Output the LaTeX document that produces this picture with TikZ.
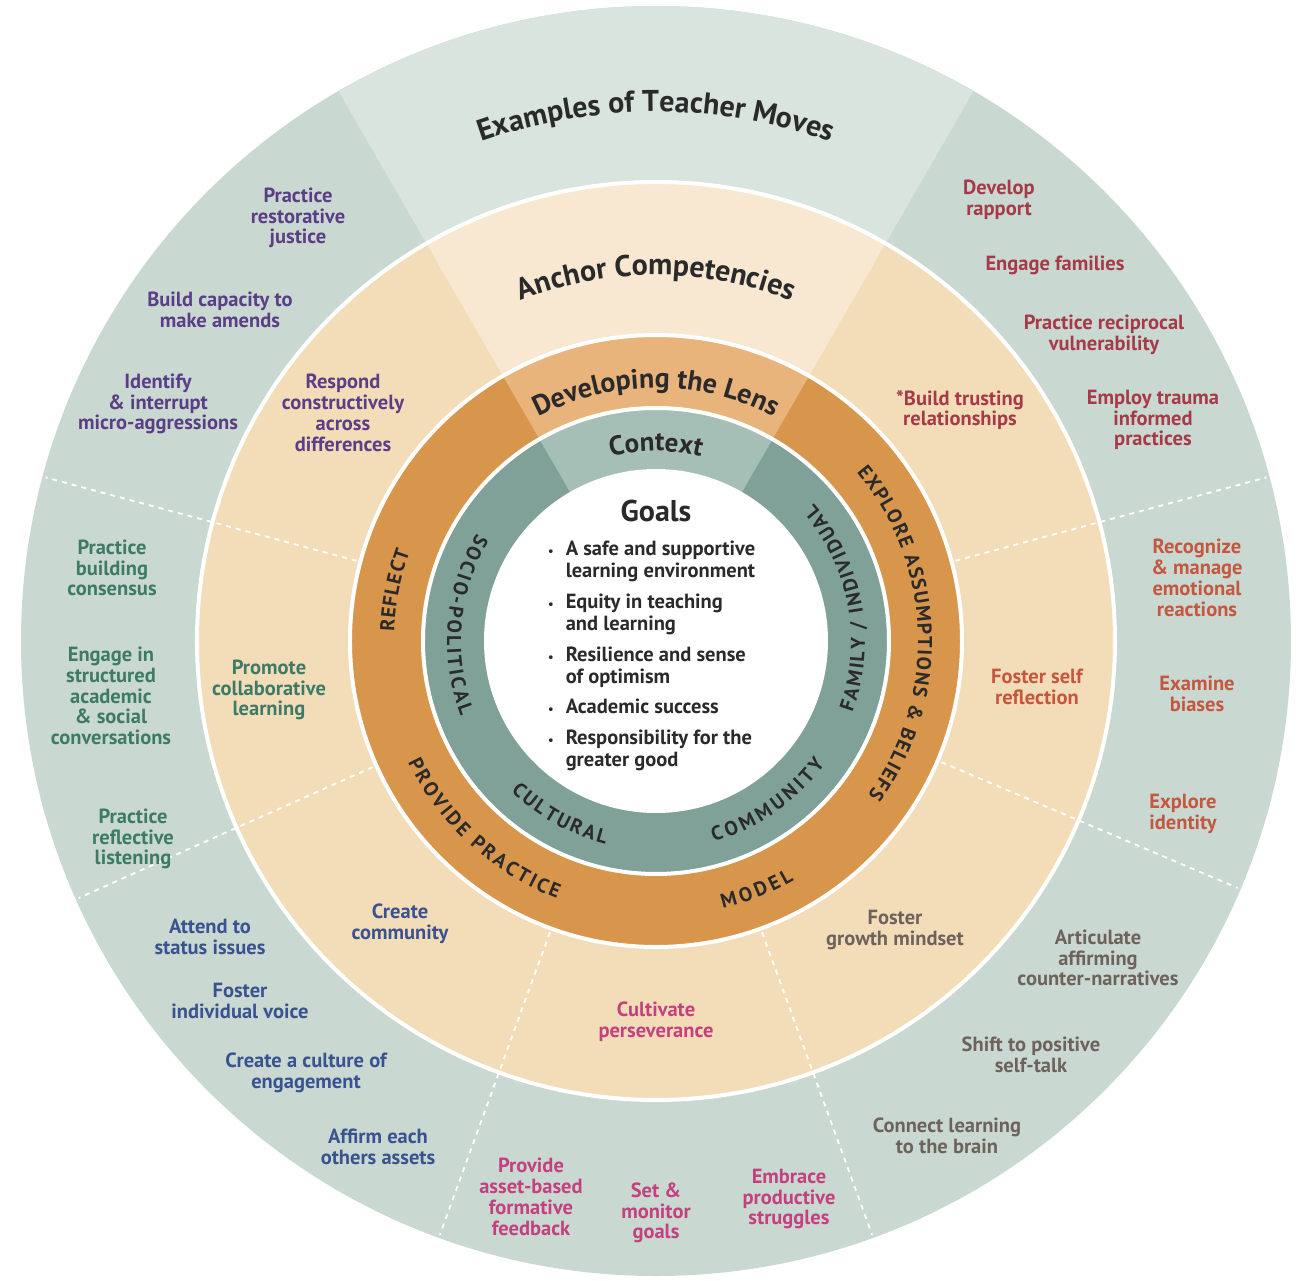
\documentclass[tikz,border=0pt]{standalone}
\usepackage{fontspec}
\setmainfont{PT Sans}
\usetikzlibrary{decorations.text}

% ring colours
\definecolor{movesbg}{HTML}{C9D9D2}
\definecolor{movestop}{HTML}{D9E4DE}
\definecolor{anchorbg}{HTML}{F3DDB9}
\definecolor{anchortop}{HTML}{F8E8D2}
\definecolor{lensbg}{HTML}{D8954C}
\definecolor{lenstop}{HTML}{E8B47B}
\definecolor{contextbg}{HTML}{7FA197}
\definecolor{contexttop}{HTML}{A6BFB6}
% text colours
\definecolor{purplemove}{HTML}{5B3E86}
\definecolor{greenmove}{HTML}{3E7B67}
\definecolor{bluemove}{HTML}{3A5290}
\definecolor{pinkmove}{HTML}{C4407F}
\definecolor{greymove}{HTML}{6E625D}
\definecolor{rustmove}{HTML}{C4573E}
\definecolor{redmove}{HTML}{A63A48}
\definecolor{ringtext}{HTML}{2A2A2A}

\newcommand{\headfont}{\bfseries\fontsize{30}{32}\selectfont\color{ringtext}}
\newcommand{\capfont}{\bfseries\fontsize{20}{22}\selectfont\color{ringtext}}

% a piece of ring: colour, inner r, outer r, from angle, to angle
\newcommand{\ringsector}[5]{%
  \fill[#1] (#4:#3) arc[start angle=#4, end angle=#5, radius=#3]
    -- (#5:#2) arc[start angle=#5, end angle=#4, radius=#2] -- cycle;}
% centred text on a circle: font, baseline radius, centre angle, text
\newcommand{\cwtext}[4]{% clockwise, tops outward
  \path[decorate, decoration={text along path, text align=center, text={|#1|#4}}]
    ({#3+80}:#2) arc[start angle={#3+80}, end angle={#3-80}, radius=#2];}
% spread text on a circle: font, baseline radius, from angle, to angle, text
\newcommand{\arctext}[5]{%
  \path[decorate, decoration={text along path, text align=fit to path, text={|#1|#5}}]
    (#3:#2) arc[start angle=#3, end angle=#4, radius=#2];}

\begin{document}
\begin{tikzpicture}[x=1pt, y=1pt,
    move/.style={font=\bfseries\fontsize{20.5}{20.8}\selectfont, align=center, inner sep=0pt},
    sector/.style={draw=white, line width=1.8, dash pattern=on 5 off 5},
    ringline/.style={draw=white, line width=4}]
  \useasboundingbox (-656,-639) rectangle (653,641);

  % 1. rings and their top sectors
  \fill[movesbg] (0,0) circle (635);
  \ringsector{movestop}{459}{635}{60}{120}
  \fill[anchorbg] (0,0) circle (459);
  \ringsector{anchortop}{306}{459}{60}{120}
  % dashed dividers between the competencies
  \foreach \a in {15,165,204,250,290,337}
    \draw[sector] (\a:310) -- (\a:632);
  \fill[lensbg] (0,0) circle (306);
  \ringsector{lenstop}{233}{306}{60}{120}
  \fill[contextbg] (0,0) circle (233);
  \ringsector{contexttop}{172}{233}{60}{120}
  \fill[white] (0,0) circle (172);
  \draw[ringline] (0,0) circle (459);
  \draw[ringline] (0,0) circle (306);
  \draw[ringline] (0,0) circle (233);

  % 2. curved headings
  \cwtext{\headfont}{529}{90}{Examples of Teacher Moves}
  \cwtext{\headfont}{366}{90}{Anchor Competencies}
  \cwtext{\headfont\fontsize{28}{30}\selectfont}{253}{90}{Developing the Lens}
  \cwtext{\headfont\fontsize{27}{29}\selectfont}{190}{90}{Context}

  % 3. lens ring (clockwise tops out, anticlockwise tops in)
  \arctext{\capfont}{262}{178}{160}{REFLECT}
  \arctext{\capfont}{262}{40}{-36}{EXPLORE ASSUMPTIONS {\&} BELIEFS}
  \arctext{\capfont}{276}{206}{249}{PROVIDE PRACTICE}
  \arctext{\capfont}{276}{284}{300}{MODEL}
  % context ring
  \arctext{\capfont}{209}{149}{201}{SOCIO-POLITICAL}
  \arctext{\capfont}{209}{-20}{41}{FAMILY / INDIVIDUAL}
  \arctext{\capfont}{209}{226}{256}{CULTURAL}
  \arctext{\capfont}{209}{286}{324}{COMMUNITY}

  % 4. goals
  \node[font=\bfseries\fontsize{30}{32}\selectfont, text=ringtext] (goals) at (0,130) {Goals};
  \node[anchor=north west, inner sep=0pt, text=ringtext,
        font=\bfseries\fontsize{20.5}{22}\selectfont] (goallist) at (-108,101.4) {%
    \begin{tabular}{@{}l@{\hspace{12pt}}l@{}}
      \scalebox{0.6}{\textbullet} & A safe and supportive\\
                 & learning environment\\[9pt]
      \scalebox{0.6}{\textbullet} & Equity in teaching\\
                 & and learning\\[9pt]
      \scalebox{0.6}{\textbullet} & Resilience and sense\\
                 & of optimism\\[8pt]
      \scalebox{0.6}{\textbullet} & Academic success\\[9pt]
      \scalebox{0.6}{\textbullet} & Responsibility for the\\
                 & greater good
    \end{tabular}};

  % 5. upper left
  \node[move, text=purplemove] (restorative) at (-358,423) {Practice\\restorative\\justice};
  \node[move, text=purplemove] (amends) at (-436,331) {Build capacity to\\make amends};
  \node[move, text=purplemove] (interrupt) at (-498,237) {Identify\\\& interrupt\\micro-aggressions};
  \node[move, text=purplemove] (respond) at (-313,228) {Respond\\constructively\\across\\differences};

  % 6. left
  \node[move, text=greenmove] (consensus) at (-544,73) {Practice\\building\\consensus};
  \node[move, text=greenmove] (conversations) at (-545,-55) {Engage in\\structured\\academic\\\& social\\conversations};
  \node[move, text=greenmove] (listening) at (-523,-198) {Practice\\reflective\\listening};
  \node[move, text=greenmove] (collaborative) at (-387,-49) {Promote\\collaborative\\learning};

  % 7. lower left
  \node[move, text=bluemove] (status) at (-446,-296) {Attend to\\status issues};
  \node[move, text=bluemove] (voice) at (-416,-360) {Foster\\individual voice};
  \node[move, text=bluemove] (engagement) at (-350,-432) {Create a culture of\\engagement};
  \node[move, text=bluemove] (assets) at (-278,-506) {Affirm each\\others assets};
  \node[move, text=bluemove] (community) at (-256,-283) {Create\\community};

  % 8. bottom
  \node[move, text=pinkmove] (feedback) at (-125,-556) {Provide\\asset-based\\formative\\feedback};
  \node[move, text=pinkmove] (monitor) at (0,-572) {Set \&\\monitor\\goals};
  \node[move, text=pinkmove] (struggles) at (133,-558) {Embrace\\productive\\struggles};
  \node[move, text=pinkmove] (perseverance) at (0,-381) {Cultivate\\perseverance};

  % 9. lower right
  \node[move, text=greymove] (narratives) at (442,-317) {Articulate\\affirming\\counter-narratives};
  \node[move, text=greymove] (selftalk) at (375,-414) {Shift to positive\\self-talk};
  \node[move, text=greymove] (brain) at (291,-495) {Connect learning\\to the brain};
  \node[move, text=greymove] (mindset) at (239,-289) {Foster\\growth mindset};

  % 10. right
  \node[move, text=rustmove] (reactions) at (541,63) {Recognize\\\& manage\\emotional\\reactions};
  \node[move, text=rustmove] (biases) at (541,-53) {Examine\\biases};
  \node[move, text=rustmove] (identity) at (527,-173) {Explore\\identity};
  \node[move, text=rustmove] (selfreflection) at (381,-46) {Foster self\\reflection};

  % 11. upper right
  \node[move, text=redmove] (rapport) at (343,441) {Develop\\rapport};
  \node[move, text=redmove] (families) at (399,376) {Engage families};
  \node[move, text=redmove] (vulnerability) at (448,306) {Practice reciprocal\\vulnerability};
  \node[move, text=redmove] (trauma) at (497,221) {Employ trauma\\informed\\practices};
  \node[move, text=redmove] (trusting) at (304,231) {*Build trusting\\relationships};
\end{tikzpicture}
\end{document}
